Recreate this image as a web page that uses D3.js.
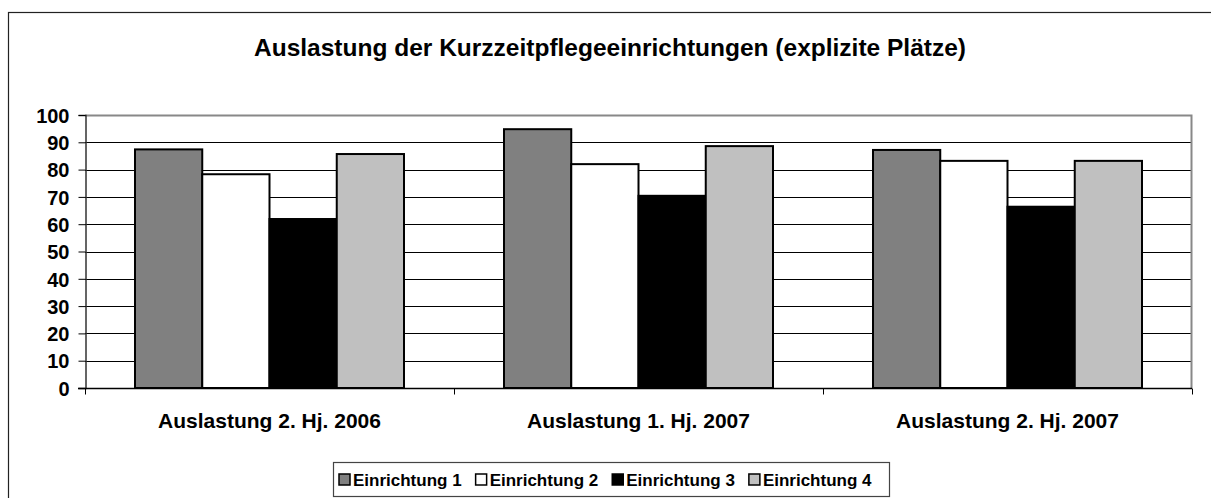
<!DOCTYPE html>
<html>
<head>
<meta charset="utf-8">
<script src="https://cdn.jsdelivr.net/npm/d3@7"></script>
<style>
  body { margin: 0; background: #fff; }
  text { font-family: "Liberation Sans", Arial, sans-serif; font-weight: bold; fill: #000; }
</style>
</head>
<body>
<svg id="chart" width="1211" height="498"></svg>
<script>
// data
let categories = ["Auslastung 2. Hj. 2006", "Auslastung 1. Hj. 2007", "Auslastung 2. Hj. 2007"];
let seriesNames = ["Einrichtung 1", "Einrichtung 2", "Einrichtung 3", "Einrichtung 4"];
let ein1 = [87.4, 94.8, 87.2];
let ein2 = [78.3, 82.0, 83.2];
let ein3 = [61.9, 70.4, 66.4];
let ein4 = [85.7, 88.6, 83.2];
let yTicks = [0, 10, 20, 30, 40, 50, 60, 70, 80, 90, 100];
let fills = ["#808080", "#ffffff", "#000000", "#c0c0c0"];

let seriesValues = [ein1, ein2, ein3, ein4];
let fontStack = "Liberation Sans, Arial, sans-serif";

let svg = d3.select("#chart");

// outer frame (runs off the right and bottom edge like the picture)
svg.append("rect")
    .attr("x", 8.5).attr("y", 12.5)
    .attr("width", 1215).attr("height", 495)
    .attr("fill", "none").attr("stroke", "#222").attr("stroke-width", 1.2);

svg.append("text")
    .attr("x", 610).attr("y", 56)
    .attr("text-anchor", "middle")
    .style("font-size", "24.5px")
    .text("Auslastung der Kurzzeitpflegeeinrichtungen (explizite Plätze)");

let plot = { left: 85, right: 1192, top: 115, bottom: 388 };

let x0 = d3.scaleBand().domain(categories).range([plot.left, plot.right]).padding(0);
let x1 = d3.scaleBand().domain(seriesNames).range([0, 269]).padding(0);
let y = d3.scaleLinear().domain([0, 100]).range([plot.bottom, plot.top]);

// gridlines
svg.append("g").selectAll("line")
    .data(yTicks.filter(d => d > 0 && d < 100))
    .join("line")
    .attr("x1", plot.left).attr("x2", plot.right)
    .attr("y1", d => Math.round(y(d)) + 0.5).attr("y2", d => Math.round(y(d)) + 0.5)
    .attr("stroke", "#000").attr("stroke-width", 1);

// plot border top/right in grey
svg.append("path")
    .attr("d", `M${plot.left},${plot.top + 0.5}H${plot.right - 0.5}V${plot.bottom}`)
    .attr("fill", "none").attr("stroke", "#888").attr("stroke-width", 2);

// bars
let groups = svg.append("g").selectAll("g")
    .data(categories)
    .join("g")
    .attr("transform", d => `translate(${x0(d) + (x0.bandwidth() - 269) / 2},0)`);

groups.selectAll("rect")
    .data((c, ci) => seriesNames.map((s, si) => ({ s: s, si: si, v: seriesValues[si][ci] })))
    .join("rect")
    .attr("x", d => x1(d.s))
    .attr("y", d => y(d.v))
    .attr("width", x1.bandwidth())
    .attr("height", d => y(0) - y(d.v))
    .attr("fill", (d) => fills[d.si])
    .attr("stroke", "#000").attr("stroke-width", 2);

// y axis
let yAxis = svg.append("g")
    .attr("transform", `translate(${plot.left + 0.5},0)`)
    .call(d3.axisLeft(y).tickValues(yTicks).tickSize(7).tickPadding(9));
yAxis.select(".domain").attr("stroke", "#333").attr("stroke-width", 1.5);
yAxis.selectAll(".tick line").attr("stroke", "#000");
yAxis.selectAll(".tick text")
    .attr("dy", "0.36em")
    .style("font-size", "20px").style("font-family", fontStack)
    .style("font-weight", "bold").attr("fill", "#000");

// x axis
let xAxis = svg.append("g")
    .attr("transform", `translate(0,${plot.bottom + 0.5})`)
    .call(d3.axisBottom(x0).tickSize(0).tickPadding(25));
xAxis.select(".domain").remove();
xAxis.append("line")
    .attr("x1", plot.left - 7).attr("x2", plot.right)
    .attr("stroke", "#000").attr("stroke-width", 1.5);
xAxis.selectAll(".tick text")
    .style("font-size", "21px").style("font-family", fontStack)
    .style("font-weight", "bold").attr("fill", "#000");
xAxis.selectAll(".bound")
    .data(d3.range(categories.length + 1))
    .join("line")
    .attr("class", "bound")
    .attr("x1", i => Math.round(plot.left + i * x0.step()) + 0.5)
    .attr("x2", i => Math.round(plot.left + i * x0.step()) + 0.5)
    .attr("y1", 0).attr("y2", 6)
    .attr("stroke", "#000");

// legend
let legend = svg.append("g");
legend.append("rect")
    .attr("x", 333.5).attr("y", 462.5)
    .attr("width", 556).attr("height", 34)
    .attr("fill", "#fff").attr("stroke", "#444").attr("stroke-width", 1.2);

let lx = 339;
seriesNames.forEach(function(name, i) {
    legend.append("rect")
        .attr("x", lx).attr("y", 474)
        .attr("width", 11).attr("height", 11)
        .attr("fill", fills[i]).attr("stroke", "#000").attr("stroke-width", 1.5);
    let t = legend.append("text")
        .attr("x", lx + 14).attr("y", 486)
        .style("font-size", "17px")
        .text(name);
    lx += 14 + t.node().getComputedTextLength() + 14;
});
</script>
</body>
</html>
